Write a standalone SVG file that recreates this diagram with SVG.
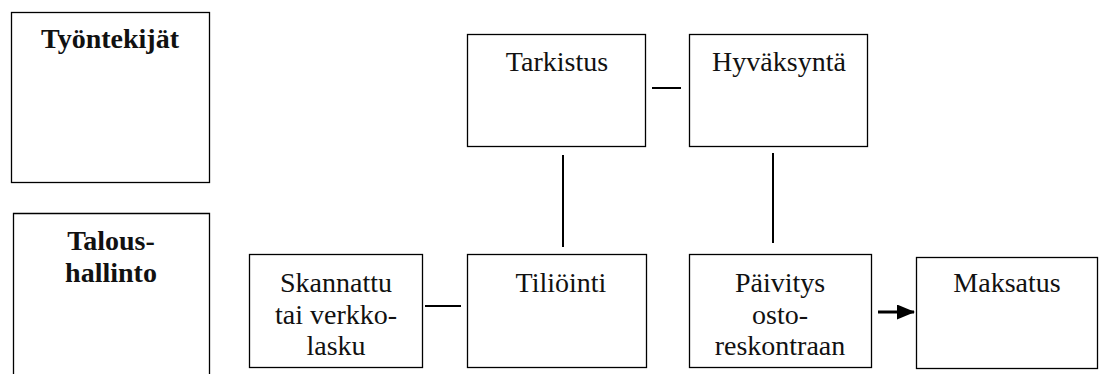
<svg xmlns="http://www.w3.org/2000/svg" width="1103" height="374" viewBox="0 0 1103 374">
<style>
.box{fill:#fff;stroke:#000;stroke-width:1.3}
.t{font-family:"Liberation Serif","Times New Roman",serif;font-size:28px;fill:#111;text-anchor:middle}
.b{font-weight:bold;font-size:28px}
.c{stroke:#000;stroke-width:2;fill:none}
.a{stroke-width:3}
</style>
<defs>
<marker id="ah" markerUnits="userSpaceOnUse" viewBox="0 0 18 15" markerWidth="18" markerHeight="15" refX="17" refY="7.5" orient="auto">
<path d="M0,0 L18,7.5 L0,15 Z" fill="#000"/>
</marker>
</defs>
<rect width="1103" height="374" fill="#fff"/>
<g id="tyontekijat">
<rect class="box" x="11.5" y="12.5" width="198" height="170"/>
<text class="t b" x="110" y="48">Työntekijät</text>
</g>
<g id="taloushallinto">
<path class="box" d="M13.5,380 V213.5 H209.5 V380"/>
<text class="t b" x="111" y="250">Talous-</text>
<text class="t b" x="111" y="282">hallinto</text>
</g>
<g id="skannattu">
<rect class="box" x="249.5" y="254.5" width="173" height="113"/>
<text class="t" x="336" y="292">Skannattu</text>
<text class="t" x="336" y="323.5">tai verkko-</text>
<text class="t" x="336" y="355">lasku</text>
</g>
<g id="tiliointi">
<rect class="box" x="467.5" y="254.5" width="179" height="113"/>
<text class="t" x="561" y="292">Tiliöinti</text>
</g>
<g id="tarkistus">
<rect class="box" x="467.5" y="34.5" width="178" height="112"/>
<text class="t" x="557" y="71">Tarkistus</text>
</g>
<g id="hyvaksynta">
<rect class="box" x="689.5" y="34.5" width="178" height="112"/>
<text class="t" x="779" y="71">Hyväksyntä</text>
</g>
<g id="paivitys">
<rect class="box" x="689.5" y="254.5" width="182" height="113"/>
<text class="t" x="780" y="292">Päivitys</text>
<text class="t" x="780" y="323.5">osto-</text>
<text class="t" x="780" y="355">reskontraan</text>
</g>
<g id="maksatus">
<rect class="box" x="916.5" y="257.5" width="181" height="111"/>
<text class="t" x="1007" y="292">Maksatus</text>
</g>
<g id="connectors">
<line class="c" x1="425" y1="306" x2="461" y2="306"/>
<line class="c" x1="652" y1="88" x2="681" y2="88"/>
<line class="c" x1="563" y1="155" x2="563" y2="247"/>
<line class="c" x1="773" y1="153" x2="773" y2="243"/>
<line class="c a" x1="878" y1="312" x2="914" y2="312" marker-end="url(#ah)"/>
</g>
</svg>
